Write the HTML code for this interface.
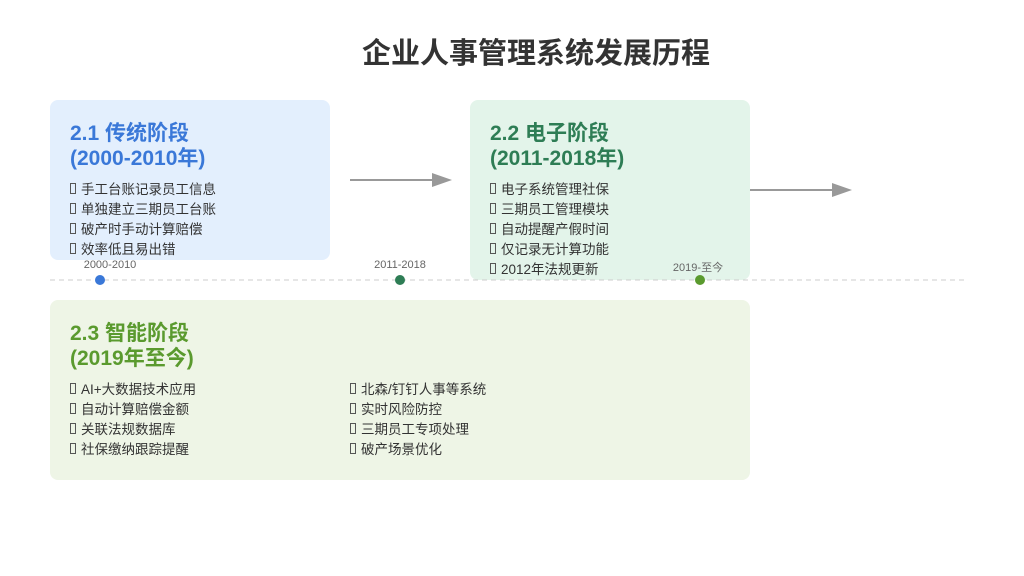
<!DOCTYPE html>
<html><head><meta charset="utf-8"><style>
body{margin:0;width:1024px;height:576px;background:#fff;position:relative;font-family:"Liberation Sans","Noto Sans CJK SC",sans-serif;overflow:hidden}
.a{position:absolute}
.box{position:absolute;border-radius:8px}
.t{position:absolute;font-size:21px;font-weight:bold;line-height:25px}
.l{position:absolute;font-size:13.5px;line-height:20px;color:#333}
.l div:before{content:"";display:inline-block;width:4px;height:9px;border:1px solid #555;margin-right:5px;vertical-align:0px}
.lab{position:absolute;font-size:11px;color:#666;transform:translateX(-50%);white-space:nowrap}
.dot{position:absolute;width:10px;height:10px;border-radius:50%}
</style></head><body>
<div class="a" style="left:0;width:1072px;top:30px;text-align:center;font-size:29px;font-weight:bold;color:#333">企业人事管理系统发展历程</div>

<div class="box" style="left:50px;top:100px;width:280px;height:160px;background:#e3effd"></div>
<div class="t" style="left:70px;top:121px;color:#3a78d8">2.1 传统阶段<br>(2000-2010年)</div>
<div class="l" style="left:70px;top:180px"><div>手工台账记录员工信息</div><div>单独建立三期员工台账</div><div>破产时手动计算赔偿</div><div>效率低且易出错</div></div>

<div class="box" style="left:470px;top:100px;width:280px;height:180px;background:#e3f4ea"></div>
<div class="t" style="left:490px;top:121px;color:#2e7d55">2.2 电子阶段<br>(2011-2018年)</div>
<div class="l" style="left:490px;top:180px"><div>电子系统管理社保</div><div>三期员工管理模块</div><div>自动提醒产假时间</div><div>仅记录无计算功能</div><div>2012年法规更新</div></div>

<div class="box" style="left:50px;top:300px;width:700px;height:180px;background:#eef5e6"></div>
<div class="t" style="left:70px;top:321px;color:#5a9a2e">2.3 智能阶段<br>(2019年至今)</div>
<div class="l" style="left:70px;top:380px"><div>AI+大数据技术应用</div><div>自动计算赔偿金额</div><div>关联法规数据库</div><div>社保缴纳跟踪提醒</div></div>
<div class="l" style="left:350px;top:380px"><div>北森/钉钉人事等系统</div><div>实时风险防控</div><div>三期员工专项处理</div><div>破产场景优化</div></div>

<svg class="a" style="left:0;top:0" width="1024" height="576">
<line x1="50" y1="280" x2="965" y2="280" stroke="#ccc" stroke-width="1" stroke-dasharray="5,4"/>
<line x1="350" y1="180" x2="434" y2="180" stroke="#999" stroke-width="2"/>
<polygon points="432,173 452,180 432,187" fill="#999"/>
<line x1="750" y1="190" x2="834" y2="190" stroke="#999" stroke-width="2"/>
<polygon points="832,183 852,190 832,197" fill="#999"/>
</svg>
<div class="dot" style="left:95px;top:275px;background:#3a78d8"></div>
<div class="dot" style="left:395px;top:275px;background:#2e7d55"></div>
<div class="dot" style="left:695px;top:275px;background:#5a9a2e"></div>
<div class="lab" style="left:110px;top:259px">2000-2010</div>
<div class="lab" style="left:400px;top:259px">2011-2018</div>
<div class="lab" style="left:698px;top:259px">2019-至今</div>
</body></html>
